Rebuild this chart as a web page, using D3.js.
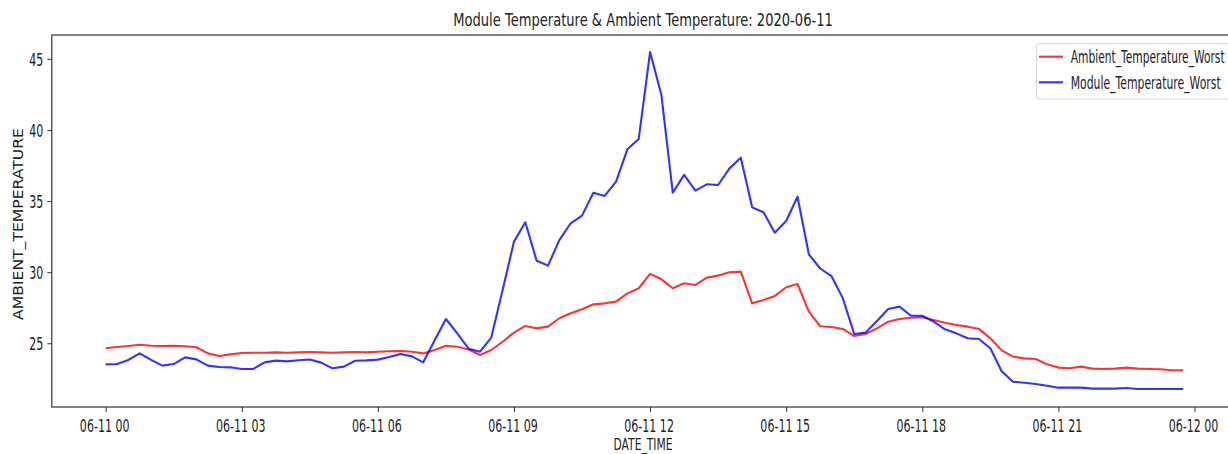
<!DOCTYPE html>
<html>
<head>
<meta charset="utf-8">
<script src="https://cdn.jsdelivr.net/npm/d3@7"></script>
<style>
  body { margin: 0; background: #fff; }
  text { font-family: "DejaVu Sans", sans-serif; fill: #222; }
</style>
</head>
<body>
<div id="chart"></div>
<script>
"use strict";

// readings every 15 minutes, 2020-06-11 00:00 .. 23:45
var startTime = "2020-06-11T00:00:00Z";
var endTime = "2020-06-12T00:00:00Z";

var ambientWorst = [
    24.65, 24.74, 24.81, 24.90, 24.83, 24.81, 24.83, 24.79, 24.72, 24.29, 24.11, 24.22,
    24.32, 24.34, 24.34, 24.36, 24.34, 24.36, 24.39, 24.36, 24.34, 24.36, 24.39, 24.36,
    24.41, 24.44, 24.46, 24.41, 24.29, 24.53, 24.83, 24.76, 24.56, 24.18, 24.53, 25.11,
    25.75, 26.22, 26.05, 26.17, 26.76, 27.11, 27.39, 27.74, 27.81, 27.93, 28.51, 28.87,
    29.88, 29.50, 28.87, 29.22, 29.10, 29.62, 29.76, 29.99, 30.04, 27.81, 28.05, 28.33,
    28.94, 29.17, 27.22, 26.20, 26.15, 26.01, 25.51, 25.65, 26.05, 26.52, 26.71, 26.80,
    26.83, 26.64, 26.45, 26.29, 26.17, 26.01, 25.35, 24.50, 24.06, 23.94, 23.90, 23.52,
    23.29, 23.24, 23.36, 23.22, 23.19, 23.22, 23.29, 23.22, 23.19, 23.17, 23.10, 23.10
];

var moduleWorst = [
    23.52, 23.54, 23.83, 24.29, 23.83, 23.43, 23.54, 24.01, 23.87, 23.43, 23.33, 23.31,
    23.19, 23.19, 23.66, 23.78, 23.73, 23.81, 23.86, 23.64, 23.24, 23.36, 23.77, 23.80,
    23.85, 24.03, 24.25, 24.08, 23.66, 25.20, 26.71, 25.70, 24.62, 24.41, 25.40, 28.75,
    32.15, 33.51, 30.81, 30.46, 32.26, 33.44, 33.98, 35.59, 35.36, 36.37, 38.64, 39.37,
    45.48, 42.46, 35.59, 36.84, 35.74, 36.18, 36.13, 37.30, 38.05, 34.56, 34.21, 32.78,
    33.60, 35.31, 31.26, 30.26, 29.72, 28.16, 25.65, 25.75, 26.57, 27.41, 27.58, 26.94,
    26.94, 26.52, 25.98, 25.70, 25.35, 25.30, 24.65, 23.03, 22.30, 22.23, 22.14, 22.02,
    21.88, 21.88, 21.88, 21.81, 21.81, 21.81, 21.86, 21.79, 21.79, 21.79, 21.79, 21.79
];

var yTicks = [25, 30, 35, 40, 45];
var yDomain = [20.52, 46.68];

var seriesNames = ["Ambient_Temperature_Worst", "Module_Temperature_Worst"];
var seriesColors = ["#ff0000", "#0000ff"];

var width = 1228, height = 454;
var plot = { left: 51.8, right: 1237, top: 35, bottom: 407 };
var squeeze = 0.65;   // the picture is narrowed horizontally

var times = d3.utcMinute.every(15).range(new Date(startTime), new Date(endTime));

var svg = d3.select("#chart").append("svg")
    .attr("width", width)
    .attr("height", height);

// matplotlib style 5% margins on x
var t0 = times[0], t1 = times[times.length - 1];
var pad = (t1 - t0) * 0.05;
var x = d3.scaleUtc()
    .domain([new Date(+t0 - pad), new Date(+t1 + pad)])
    .range([plot.left, plot.right]);

var y = d3.scaleLinear()
    .domain(yDomain)
    .range([plot.bottom, plot.top]);

// put a text at (px, py), squeezed to the wanted width
function label(parent, str, px, py, size, wantWidth, anchor, rotate)
{
    var t = parent.append("text")
        .text(str)
        .attr("font-size", size)
        .attr("text-anchor", anchor || "start");
    var k = wantWidth ? wantWidth / t.node().getComputedTextLength() : squeeze;
    t.attr("transform", "translate(" + px + "," + py + ")" + (rotate ? " rotate(-90)" : "") + " scale(" + k + ",1)");
    return t;
}

// lines
var lineGen = d3.line()
    .x(function(d, i){ return x(times[i]); })
    .y(function(d){ return y(d); });

[ambientWorst, moduleWorst].forEach(function(vals, s){
    svg.append("path")
        .datum(vals)
        .attr("d", lineGen)
        .attr("fill", "none")
        .attr("stroke", seriesColors[s])
        .attr("stroke-opacity", 0.8)
        .attr("stroke-width", 2.1)
        .attr("stroke-linejoin", "round");
});

// x axis
var xAxis = d3.axisBottom(x)
    .ticks(d3.utcHour.every(3))
    .tickFormat(d3.utcFormat("%m-%d %H"))
    .tickSize(5)
    .tickSizeOuter(0);

var gx = svg.append("g")
    .attr("transform", "translate(0," + plot.bottom + ")")
    .call(xAxis);
gx.select(".domain").remove();
gx.selectAll(".tick line").attr("stroke", "#333");
gx.selectAll(".tick text")
    .attr("font-size", 17)
    .attr("font-family", "DejaVu Sans")
    .attr("fill", "#333")
    .attr("dy", null)
    .attr("y", 0)
    .attr("transform", "translate(-1.5,24.5) scale(" + squeeze + ",1)");

// y axis
var yAxis = d3.axisLeft(y)
    .tickValues(yTicks)
    .tickSize(4.5)
    .tickSizeOuter(0);

var gy = svg.append("g")
    .attr("transform", "translate(" + plot.left + ",0)")
    .call(yAxis);
gy.select(".domain").remove();
gy.selectAll(".tick line").attr("stroke", "#333");
gy.selectAll(".tick text")
    .attr("font-size", 17)
    .attr("font-family", "DejaVu Sans")
    .attr("fill", "#333")
    .attr("x", -8.5 / squeeze)
    .attr("dy", "0.36em")
    .attr("transform", "scale(" + squeeze + ",1)");

// frame (right edge sits just outside the window)
svg.append("rect")
    .attr("x", plot.left)
    .attr("y", plot.top)
    .attr("width", plot.right - plot.left)
    .attr("height", plot.bottom - plot.top)
    .attr("fill", "none")
    .attr("stroke", "#333")
    .attr("stroke-width", 1.2);

// titles
label(svg, "Module Temperature & Ambient Temperature: 2020-06-11", 643, 26, 17, 380, "middle");
label(svg, "DATE_TIME", 643, 450, 16, 59, "middle");
label(svg, "AMBIENT_TEMPERATURE", 22.5, 224, 14, 192, "middle", true)
    .attr("font-family", "Liberation Sans");

// legend
var lg = svg.append("g");
lg.append("rect")
    .attr("x", 1036.5)
    .attr("y", 43.5)
    .attr("width", 220)
    .attr("height", 55.5)
    .attr("rx", 3)
    .attr("fill", "#fff")
    .attr("fill-opacity", 0.8)
    .attr("stroke", "#d6d6d6");

var legendY = [56.7, 82.3];
seriesNames.forEach(function(name, s){
    lg.append("line")
        .attr("x1", 1039)
        .attr("x2", 1063)
        .attr("y1", legendY[s])
        .attr("y2", legendY[s])
        .attr("stroke", seriesColors[s])
        .attr("stroke-opacity", 0.8)
        .attr("stroke-width", 2.1);
    label(lg, name, 1070.7, legendY[s] + 6.5, 17, s == 0 ? 154 : 150, "start");
});
</script>
</body>
</html>
